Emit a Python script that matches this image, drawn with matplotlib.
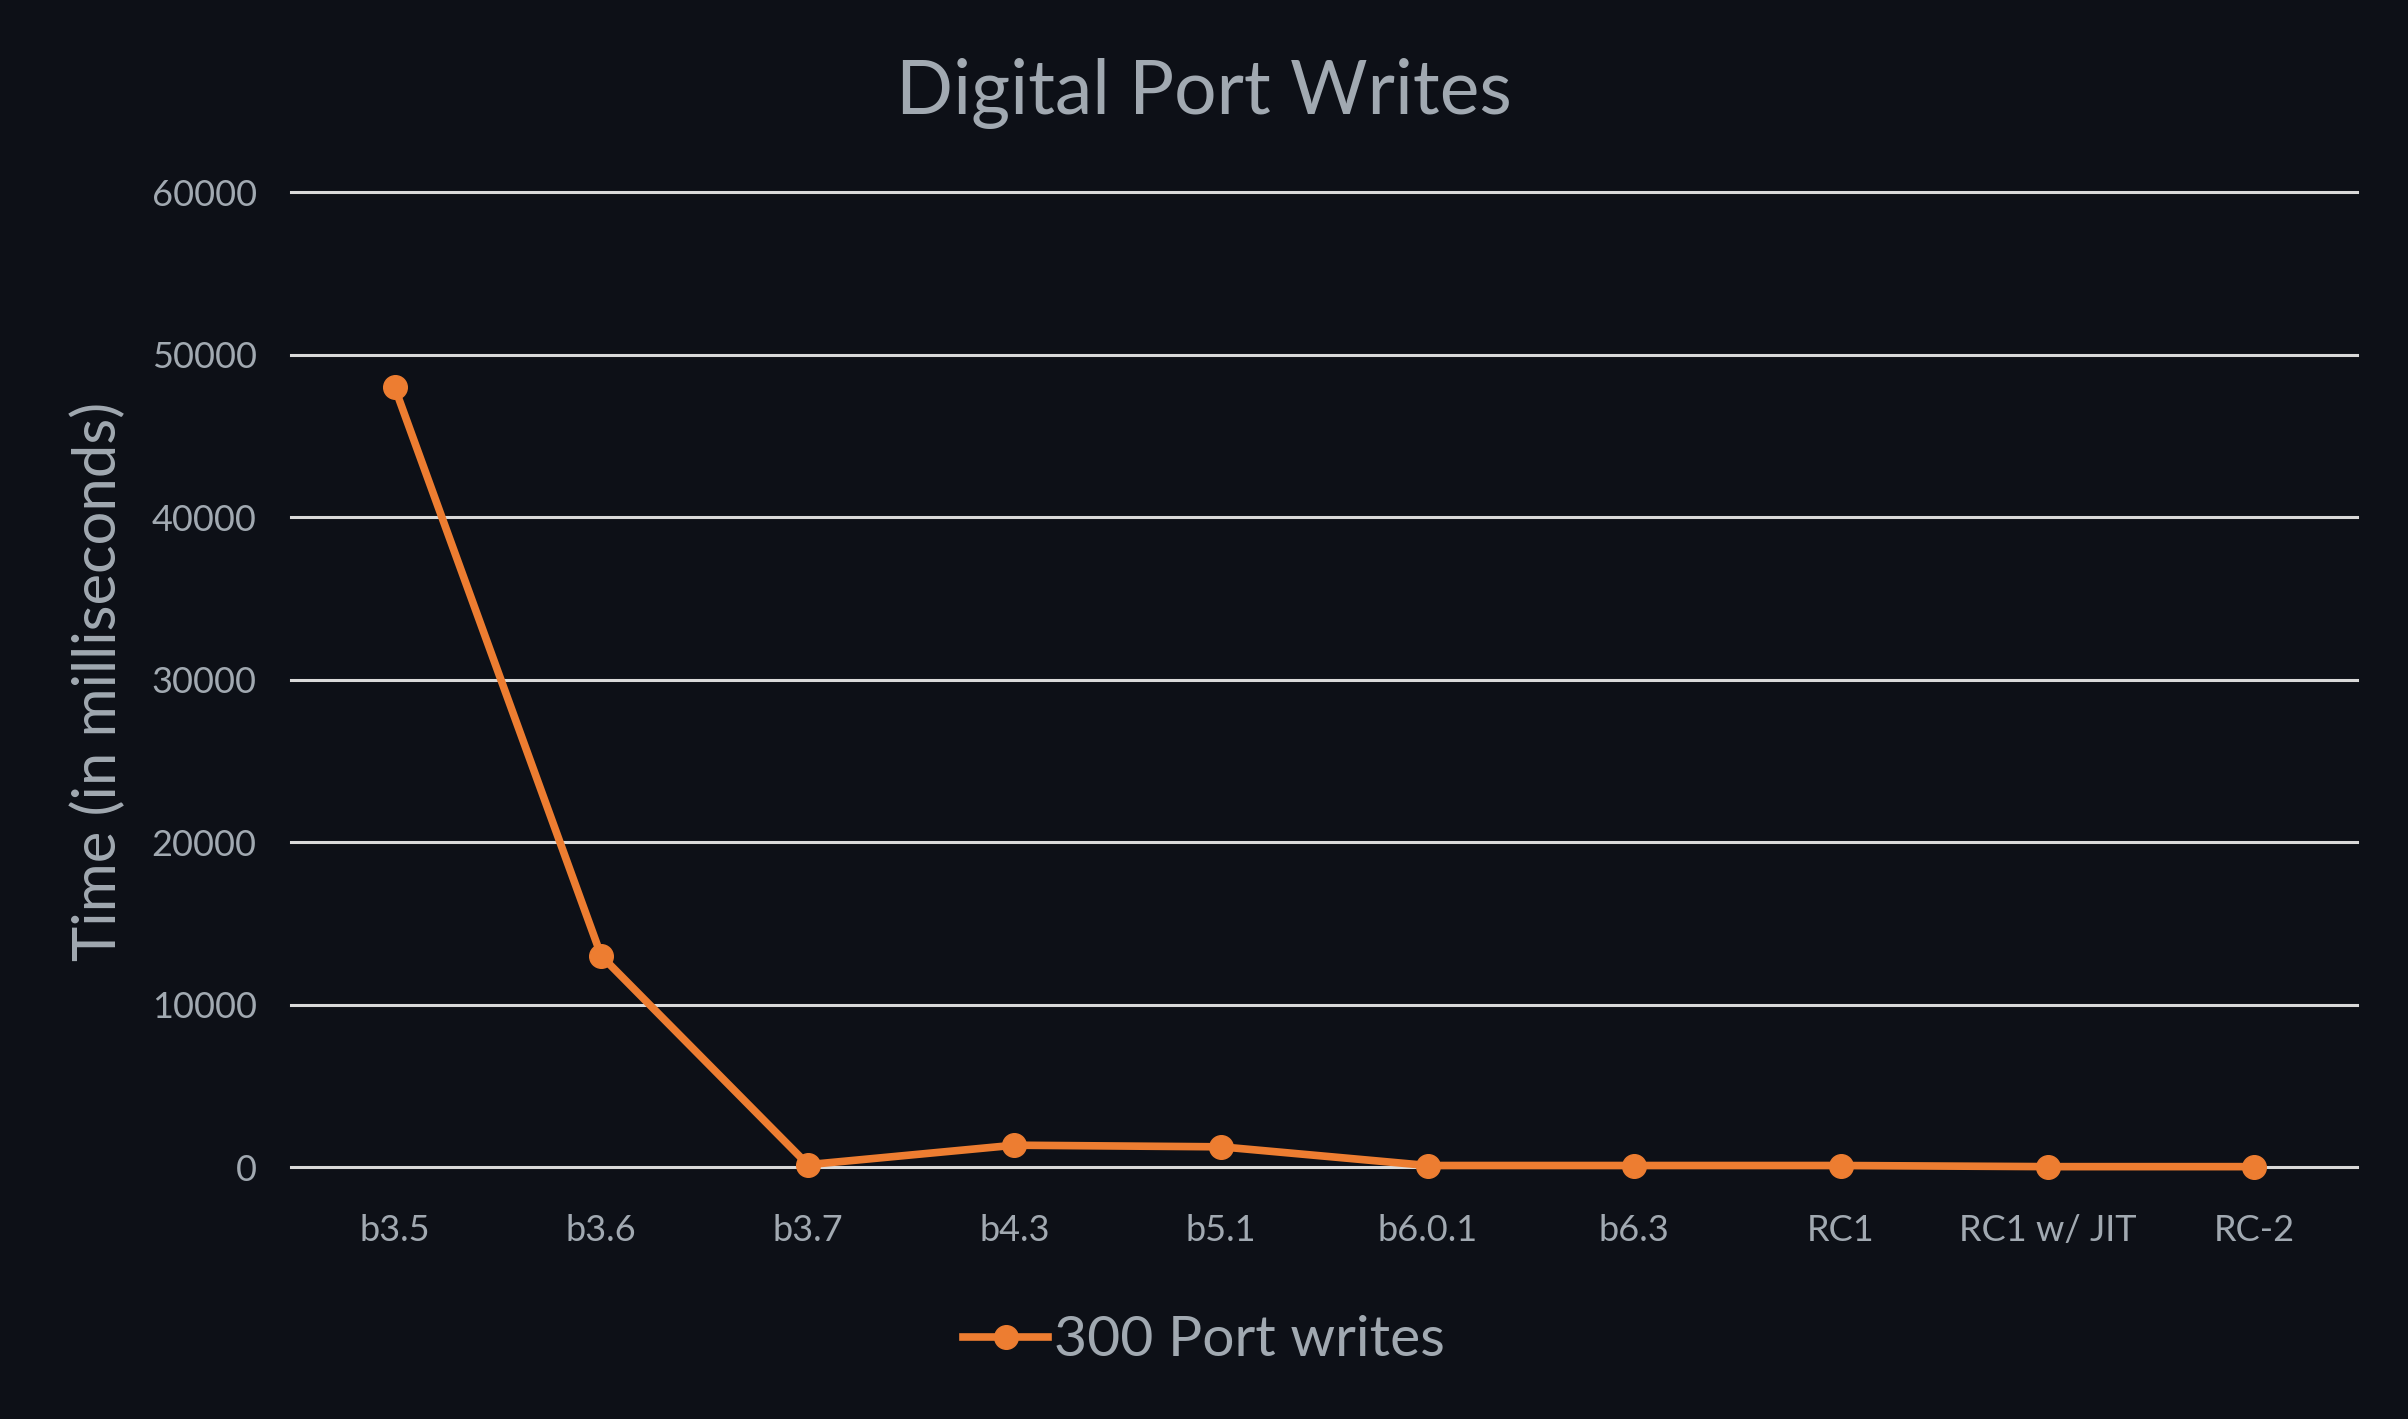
import numpy as np
import matplotlib.pyplot as plt

versions = ['b3.5', 'b3.6', 'b3.7', 'b4.3', 'b5.1', 'b6.0.1', 'b6.3', 'RC1', 'RC1 w/ JIT', 'RC-2']
times = [48000, 13000, 150, 1350, 1250, 100, 100, 100, 30, 30]  # ms, 300 port writes
yticks = [0, 10000, 20000, 30000, 40000, 50000, 60000]

bg = '#0d1017'
txt = '#a1a9b1'
orange = '#ed7d31'

plt.rcParams['font.family'] = ['Lato', 'DejaVu Sans']

fig = plt.figure(figsize=(24.08, 14.19), dpi=100, facecolor=bg)
ax = fig.add_axes([0.121, 0.1775, 0.858, 0.687])
ax.set_facecolor(bg)

x = np.arange(len(versions))
ax.plot(x, times, '-o', color=orange, lw=5.5, ms=17, label='300 Port writes', zorder=3, clip_on=False)

ax.set_xlim(-0.5, len(versions) - 0.5)
ax.set_ylim(0, 60000)
ax.set_yticks(yticks)
ax.set_xticks(x)
ax.set_xticklabels(versions)
ax.yaxis.grid(True, color='#d9d9d9', lw=2.2)
for gl in ax.get_ygridlines():
    gl.set_clip_on(False)
ax.set_axisbelow(True)
for s in ax.spines.values():
    s.set_visible(False)
ax.tick_params(length=0, labelsize=26, colors=txt, pad=34)
ax.tick_params(axis='y', pad=25)

fig.text(0.5, 0.934, 'Digital Port Writes', ha='center', va='center', fontsize=54, color=txt)
fig.text(0.041, 0.52, 'Time (in milliseconds)', ha='center', va='center', rotation=90, fontsize=43, color=txt)

leg = fig.legend(loc='center', bbox_to_anchor=(0.5, 0.055), frameon=False, fontsize=41,
                 handlelength=1.5, handletextpad=0.1, labelcolor=txt)

fig.savefig('out.png', dpi=100, facecolor=bg)
